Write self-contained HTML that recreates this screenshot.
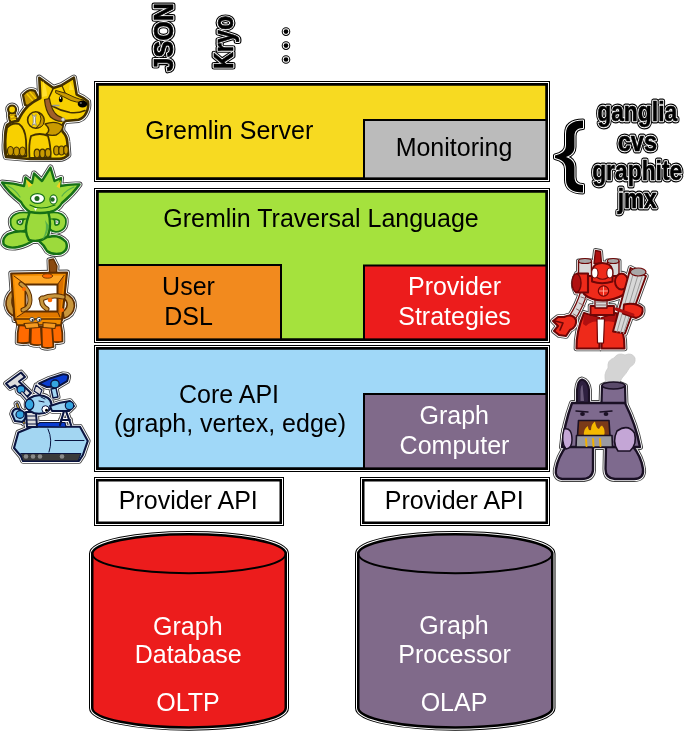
<!DOCTYPE html>
<html><head><meta charset="utf-8">
<style>
html,body{margin:0;padding:0;background:#fff;width:685px;height:733px;overflow:hidden;}
svg{display:block;will-change:transform;}
text{font-family:"Liberation Sans",sans-serif;}
.t{font-size:25px;text-anchor:middle;fill:#000;}
.w{fill:#fff;}
</style></head><body>
<svg width="685" height="733" viewBox="0 0 685 733">
<!-- halo strokes for boxes -->
<g fill="none" stroke="#000" stroke-width="6.5">
<rect x="97.25" y="84.25" width="449.5" height="94.5"/>
<rect x="97.25" y="191.25" width="449.5" height="148.5"/>
<rect x="97.25" y="348.25" width="449.5" height="120.5"/>
<rect x="97.25" y="480.25" width="183.5" height="42.5"/>
<rect x="363.25" y="480.25" width="183.5" height="42.5"/>
</g>
<g fill="none" stroke="#fff" stroke-width="4.5">
<rect x="97.25" y="84.25" width="449.5" height="94.5"/>
<rect x="97.25" y="191.25" width="449.5" height="148.5"/>
<rect x="97.25" y="348.25" width="449.5" height="120.5"/>
<rect x="97.25" y="480.25" width="183.5" height="42.5"/>
<rect x="363.25" y="480.25" width="183.5" height="42.5"/>
</g>
<g stroke="#000" stroke-width="2.5">
<rect x="97.25" y="84.25" width="449.5" height="94.5" fill="#F7DA21"/>
<rect x="97.25" y="191.25" width="449.5" height="148.5" fill="#A5E23D"/>
<rect x="97.25" y="348.25" width="449.5" height="120.5" fill="#A0D8F8"/>
<rect x="97.25" y="480.25" width="183.5" height="42.5" fill="#fff"/>
<rect x="363.25" y="480.25" width="183.5" height="42.5" fill="#fff"/>
</g>
<g stroke="#000" stroke-width="2">
<rect x="364" y="120" width="182.75" height="58.75" fill="#BBBBBB"/>
<rect x="97.25" y="265" width="183.75" height="74.75" fill="#F28A1E"/>
<rect x="364" y="265.5" width="182.75" height="74.25" fill="#EC1C1C"/>
<rect x="364" y="394" width="182.75" height="74.75" fill="#806A8A"/>
</g>
<g stroke="#000" stroke-width="2.5" fill="none">
<rect x="97.25" y="84.25" width="449.5" height="94.5"/>
<rect x="97.25" y="191.25" width="449.5" height="148.5"/>
<rect x="97.25" y="348.25" width="449.5" height="120.5"/>
</g>
<!-- cylinders -->
<g id="cyl">
<path d="M92.25,553.7 A96.75,19.5 0 0 1 285.75,553.7 L285.75,707.9 A96.75,19.5 0 0 1 92.25,707.9 Z" fill="none" stroke="#000" stroke-width="6.5"/>
<path d="M92.25,553.7 A96.75,19.5 0 0 1 285.75,553.7 L285.75,707.9 A96.75,19.5 0 0 1 92.25,707.9 Z" fill="none" stroke="#fff" stroke-width="4.5"/>
<path d="M92.25,553.7 A96.75,19.5 0 0 1 285.75,553.7 L285.75,707.9 A96.75,19.5 0 0 1 92.25,707.9 Z" fill="#EC1C1C" stroke="#000" stroke-width="2.5"/>
<path d="M92.25,553.7 A96.75,19.5 0 0 0 285.75,553.7" fill="none" stroke="#000" stroke-width="2"/>
</g>
<path d="M358.25,553.7 A97,19.5 0 0 1 552.25,553.7 L552.25,707.9 A97,19.5 0 0 1 358.25,707.9 Z" fill="none" stroke="#000" stroke-width="6.5"/>
<path d="M358.25,553.7 A97,19.5 0 0 1 552.25,553.7 L552.25,707.9 A97,19.5 0 0 1 358.25,707.9 Z" fill="none" stroke="#fff" stroke-width="4.5"/>
<path d="M358.25,553.7 A97,19.5 0 0 1 552.25,553.7 L552.25,707.9 A97,19.5 0 0 1 358.25,707.9 Z" fill="#806A8A" stroke="#000" stroke-width="2.5"/>
<path d="M358.25,553.7 A97,19.5 0 0 0 552.25,553.7" fill="none" stroke="#000" stroke-width="2"/>


<!-- outlined labels -->
<defs>
<text id="tJSON" transform="translate(173,71.5) rotate(-90)" font-weight="bold" font-size="27.5" textLength="68.3" lengthAdjust="spacingAndGlyphs">JSON</text>
<text id="tKryo" transform="translate(233.2,69.1) rotate(-90)" font-weight="bold" font-size="27.5" textLength="53.3" lengthAdjust="spacingAndGlyphs">Kryo</text>
<g id="tDots"><circle cx="286" cy="31.6" r="2.3"/><circle cx="286" cy="45.6" r="2.3"/><circle cx="286" cy="59.5" r="2.3"/></g>
<g id="tMon" font-weight="bold" font-size="27" text-anchor="middle">
<text x="637.2" y="121.2" textLength="80" lengthAdjust="spacingAndGlyphs">ganglia</text>
<text x="637.4" y="150.5" textLength="39.3" lengthAdjust="spacingAndGlyphs">cvs</text>
<text x="637.2" y="179.5" textLength="90" lengthAdjust="spacingAndGlyphs">graphite</text>
<text x="637.2" y="208" textLength="39.1" lengthAdjust="spacingAndGlyphs">jmx</text>
</g>
<path id="brace" d="M583,120.5 C572,120.5 566,125 566,134 L566,145 C566,151 562,154 555,155.5 L555,158 C562,159.5 566,163 566,169 L566,180 C566,188 572,192.5 583,192.5 L583,185 C577,185 574.5,182 574.5,177 L574.5,167 C574.5,162 571,158.5 566,157 C571,155.5 574.5,152 574.5,147 L574.5,136 C574.5,131 577,128 583,128 Z"/>
</defs>
<g fill="#000" stroke="#000" stroke-width="5" stroke-linejoin="round"><use href="#tJSON"/><use href="#tKryo"/><use href="#tMon"/></g>
<g fill="#fff" stroke="#fff" stroke-width="2.6" stroke-linejoin="round"><use href="#tJSON"/><use href="#tKryo"/><use href="#tMon"/></g>
<g fill="#000" stroke="#000" stroke-width="0.6" stroke-linejoin="round"><use href="#tJSON"/><use href="#tKryo"/><use href="#tMon"/></g>
<g fill="#000" stroke="#000" stroke-width="4" stroke-linejoin="round"><use href="#tDots"/><use href="#brace"/></g>
<g fill="#fff" stroke="#fff" stroke-width="2" stroke-linejoin="round"><use href="#tDots"/><use href="#brace"/></g>
<g fill="#000"><use href="#tDots"/><use href="#brace"/></g>


<g id="dog" stroke-linejoin="round" stroke-linecap="round">
<g fill="#fff" stroke="#444" stroke-width="5.6">
<path d="M9,112 Q8,120 13,126 L19,122 Q15,117 15,112 Z" stroke-width="5.800000000000001"/>
<ellipse cx="12.1" cy="109.5" rx="4" ry="4" stroke-width="5.800000000000001"/>
<path d="M23,95 Q29,88 35,91 L40,101 L31,107 L25,105 Z" stroke-width="5.800000000000001"/>
<path d="M40.3,98 L39.3,77.7 L53.4,88 L61.8,85.2 L73.9,77.7 L76.7,94.6 Q83,97 88,101.5 Q89,108 86,113.3 Q84,118 78.6,119.8 L65,121 Q61,126 62.5,131.5 Q67,136 67.3,142 L68.3,155 Q64,159 58.9,158.9 L30,159 L6,157 Q4,150 5,140 Q5,130 7,125 Q12,121 18,121 Q22,112 28,106 Q34,101 40.3,98 Z" stroke-width="6.2"/>
</g>
<g fill="#fff" stroke="#fff">
<path d="M9,112 Q8,120 13,126 L19,122 Q15,117 15,112 Z" stroke-width="4.0"/>
<ellipse cx="12.1" cy="109.5" rx="4" ry="4" stroke-width="4.0"/>
<path d="M23,95 Q29,88 35,91 L40,101 L31,107 L25,105 Z" stroke-width="4.0"/>
<path d="M40.3,98 L39.3,77.7 L53.4,88 L61.8,85.2 L73.9,77.7 L76.7,94.6 Q83,97 88,101.5 Q89,108 86,113.3 Q84,118 78.6,119.8 L65,121 Q61,126 62.5,131.5 Q67,136 67.3,142 L68.3,155 Q64,159 58.9,158.9 L30,159 L6,157 Q4,150 5,140 Q5,130 7,125 Q12,121 18,121 Q22,112 28,106 Q34,101 40.3,98 Z" stroke-width="4.4"/>
</g>
<path d="M9,112 Q8,120 13,126 L19,122 Q15,117 15,112 Z" fill="#F8D000" stroke="#433000" stroke-width="2.2"/>
<ellipse cx="12.1" cy="109.5" rx="4" ry="4" fill="#F8D000" stroke="#433000" stroke-width="2.2"/>
<path d="M10,115.5 L15,114.5 M10.5,119 L16,117.5 M12,122.5 L17.5,120.5" fill="none" stroke="#C99A00" stroke-width="1.4"/>
<path d="M23,95 Q29,88 35,91 L40,101 L31,107 L25,105 Z" fill="#C99A00" stroke="#433000" stroke-width="2.2"/>
<path d="M27,94 L33,101 M30,92 L36,99" fill="none" stroke="#F8D000" stroke-width="1.2"/>
<path d="M40.3,98 L39.3,77.7 L53.4,88 L61.8,85.2 L73.9,77.7 L76.7,94.6 Q83,97 88,101.5 Q89,108 86,113.3 Q84,118 78.6,119.8 L65,121 Q61,126 62.5,131.5 Q67,136 67.3,142 L68.3,155 Q64,159 58.9,158.9 L30,159 L6,157 Q4,150 5,140 Q5,130 7,125 Q12,121 18,121 Q22,112 28,106 Q34,101 40.3,98 Z" fill="#F8D000" stroke="#433000" stroke-width="2.6"/>
<path d="M6.5,156 Q4.5,140 7,128 Q12,122 19,124 Q25,128 26,140 L26.5,156 Z" fill="#F8D000" stroke="#433000" stroke-width="1.8"/>
<path d="M29.5,158 Q28.5,144 31,136 Q40,132 48,136 Q51,146 50.5,158 Z" fill="#F8D000" stroke="#433000" stroke-width="1.8"/>
<path d="M45,124 Q56,120 63,126 Q62,132 56,135 Q50,136 46,134 Q52,130 45,124 Z" fill="#C99A00" stroke="#433000" stroke-width="1.4"/>
<ellipse cx="10.5" cy="151" rx="3" ry="4.5" fill="#C99A00" stroke="#433000" stroke-width="1.2"/>
<ellipse cx="16.5" cy="151.5" rx="3" ry="4.5" fill="#C99A00" stroke="#433000" stroke-width="1.2"/>
<ellipse cx="22.5" cy="151.5" rx="3" ry="4.5" fill="#C99A00" stroke="#433000" stroke-width="1.2"/>
<ellipse cx="37" cy="153.5" rx="2.8" ry="4.3" fill="#C99A00" stroke="#433000" stroke-width="1.2"/>
<ellipse cx="42.5" cy="153.5" rx="2.8" ry="4.3" fill="#C99A00" stroke="#433000" stroke-width="1.2"/>
<ellipse cx="48" cy="153" rx="2.8" ry="4.3" fill="#C99A00" stroke="#433000" stroke-width="1.2"/>
<ellipse cx="56.5" cy="150.5" rx="2.8" ry="4.5" fill="#C99A00" stroke="#433000" stroke-width="1.2"/>
<ellipse cx="61.5" cy="150.5" rx="2.8" ry="4.5" fill="#C99A00" stroke="#433000" stroke-width="1.2"/>
<ellipse cx="66" cy="150" rx="2.3" ry="4.3" fill="#C99A00" stroke="#433000" stroke-width="1.2"/>
<ellipse cx="35.8" cy="120" rx="8.2" ry="8.2" fill="#F8D000" stroke="#433000" stroke-width="1.6"/>
<path d="M38,112.5 Q45,116 44,122 Q43,128 36,128 Q41,124 41,119 Q41,115 38,112.5 Z" fill="#C99A00" stroke="#433000" stroke-width="1"/>
<path d="M32.2,114.5 L34,116.5 L36.2,114.5 L35.5,117.5 L35.5,122.5 L36.5,125.5 L34.2,124 L32.2,125.5 L33.2,122.5 L33.2,117.5 Z" fill="#EEEEEE" stroke="#777" stroke-width="0.7"/>
<path d="M48.7,98.3 L53.4,88" fill="none" stroke="#433000" stroke-width="1.5"/>
<path d="M61.8,85.2 L66,95" fill="none" stroke="#433000" stroke-width="1.2"/>
<path d="M43,81 Q47,88 47,96 L42,97 Z" fill="#FFE030"/>
<path d="M70,82 L74,90 L69,90 Z" fill="#FFE030"/>
<path d="M56,90.5 Q66,92.5 75,97.5 Q80,99.5 84,100 L83,102.5 Q76,102.5 71,100.5 Q63,96.5 56,93 Z" fill="#C99A00" stroke="#433000" stroke-width="1"/>
<path d="M52,106 Q61,111 70,112.5 Q78,113.5 85,110.5" fill="none" stroke="#433000" stroke-width="1.6"/>
<path d="M53,105.5 L59,105.5" fill="none" stroke="#999" stroke-width="1.4"/>
<path d="M44.5,99.5 Q45.5,111 50.5,117 Q55,121 62,121.5 L62,117.5 Q57.5,116.5 54.5,112.5 Q50.5,106.5 49.5,98.5 Z" fill="#A0602A" stroke="#433000" stroke-width="1.2"/>
<ellipse cx="63.1" cy="119.5" rx="2" ry="1.8" fill="#DDDDDD" stroke="#777" stroke-width="0.6"/>
<ellipse cx="82.5" cy="104" rx="4.8" ry="3.4" fill="#000"/>
<ellipse cx="80.8" cy="103" rx="1.2" ry="0.8" fill="#888"/>
<ellipse cx="60.8" cy="99.2" rx="1.9" ry="3" fill="#000"/>
<ellipse cx="60.4" cy="98" rx="0.7" ry="0.9" fill="#fff"/>
</g>
<g id="gremlin" stroke-linejoin="round" stroke-linecap="round">
<g fill="#fff" stroke="#444" stroke-width="5.6">
<path d="M31,216.5 Q17,214 14,220 Q13,228 21,228 Q26,227 26,222" stroke-width="12.1" fill="none"/>
<path d="M47,216.5 Q60,214 62.5,220 Q63.5,228 56,228.5 Q51,228 51.5,222" stroke-width="12.1" fill="none"/>
<path d="M28,232 Q16,230 8,234 Q2,238 3.5,244 Q7,249 18,247 Q27,245 34,240 Z" stroke-width="6.0"/>
<path d="M40,236 Q47,238 53,236 Q61,236 66,242 Q69,250 61,253.5 Q52,255 47,251 Q44,245 39,241 Z" stroke-width="6.0"/>
<path d="M30,211 L48,211 Q52,224 48,236 Q40,243 29,240 Q24,232 27,221 Z" stroke-width="6.0"/>
<path d="M2,182.5 Q14,183 24,186 L25.5,177.5 L32,183 L34,173.5 L42,181 L50.5,167.5 L54.5,181 L61,178 L60,186 Q70,184 79.5,184.5 Q72,195 62,203 Q58,210 50,212 Q40,214 30,212 Q24,208 21,202 Q8,192 2,182.5 Z" stroke-width="6.0"/>
</g>
<g fill="#fff" stroke="#fff">
<path d="M31,216.5 Q17,214 14,220 Q13,228 21,228 Q26,227 26,222" stroke-width="10.3" fill="none"/>
<path d="M47,216.5 Q60,214 62.5,220 Q63.5,228 56,228.5 Q51,228 51.5,222" stroke-width="10.3" fill="none"/>
<path d="M28,232 Q16,230 8,234 Q2,238 3.5,244 Q7,249 18,247 Q27,245 34,240 Z" stroke-width="4.2"/>
<path d="M40,236 Q47,238 53,236 Q61,236 66,242 Q69,250 61,253.5 Q52,255 47,251 Q44,245 39,241 Z" stroke-width="4.2"/>
<path d="M30,211 L48,211 Q52,224 48,236 Q40,243 29,240 Q24,232 27,221 Z" stroke-width="4.2"/>
<path d="M2,182.5 Q14,183 24,186 L25.5,177.5 L32,183 L34,173.5 L42,181 L50.5,167.5 L54.5,181 L61,178 L60,186 Q70,184 79.5,184.5 Q72,195 62,203 Q58,210 50,212 Q40,214 30,212 Q24,208 21,202 Q8,192 2,182.5 Z" stroke-width="4.2"/>
</g>
<path d="M31,216.5 Q17,214 14,220 Q13,228 21,228 Q26,227 26,222" fill="none" stroke="#167016" stroke-width="8.5"/>
<path d="M47,216.5 Q60,214 62.5,220 Q63.5,228 56,228.5 Q51,228 51.5,222" fill="none" stroke="#167016" stroke-width="8.5"/>
<path d="M31,216.5 Q17,214 14,220 Q13,228 21,228 Q26,227 26,222" fill="none" stroke="#9CDA3C" stroke-width="5"/>
<path d="M47,216.5 Q60,214 62.5,220 Q63.5,228 56,228.5 Q51,228 51.5,222" fill="none" stroke="#9CDA3C" stroke-width="5"/>
<path d="M28,232 Q16,230 8,234 Q2,238 3.5,244 Q7,249 18,247 Q27,245 34,240 Z" fill="#9CDA3C" stroke="#167016" stroke-width="2.4"/>
<path d="M40,236 Q47,238 53,236 Q61,236 66,242 Q69,250 61,253.5 Q52,255 47,251 Q44,245 39,241 Z" fill="#9CDA3C" stroke="#167016" stroke-width="2.4"/>
<path d="M30,211 L48,211 Q52,224 48,236 Q40,243 29,240 Q24,232 27,221 Z" fill="#9CDA3C" stroke="#167016" stroke-width="2.4"/>
<path d="M45,220 Q48,230 42,240 Q47,236 49,226 Z" fill="#55B04A"/>
<path d="M2,182.5 Q14,183 24,186 L25.5,177.5 L32,183 L34,173.5 L42,181 L50.5,167.5 L54.5,181 L61,178 L60,186 Q70,184 79.5,184.5 Q72,195 62,203 Q58,210 50,212 Q40,214 30,212 Q24,208 21,202 Q8,192 2,182.5 Z" fill="#9CDA3C" stroke="#167016" stroke-width="2.4"/>
<path d="M25.8,179 L32.5,185 L28.5,187.5 Z M60.8,180 L56.5,186.5 L59.8,188.5 Z" fill="#F2D020"/>
<path d="M30,205 Q40,211 55,205" fill="none" stroke="#167016" stroke-width="1.2"/>
<path d="M8,186 Q16,190 20,197" fill="none" stroke="#55B04A" stroke-width="1.2"/>
<path d="M74,187 Q66,190 62,196" fill="none" stroke="#55B04A" stroke-width="1.2"/>
<ellipse cx="37.5" cy="198.5" rx="7" ry="4.8" fill="#fff" stroke="#167016" stroke-width="1.2"/>
<ellipse cx="53.5" cy="199.5" rx="3.6" ry="4.6" fill="#fff" stroke="#167016" stroke-width="1.2"/>
<ellipse cx="37" cy="198.5" rx="2.5" ry="2.5" fill="#1F6A1F"/>
<ellipse cx="52.5" cy="199.5" rx="2.2" ry="2.2" fill="#1F6A1F"/>
<path d="M34,208 L35.5,211 L37,208 Z" fill="#fff"/>
</g>
<g id="frame" stroke-linejoin="round" stroke-linecap="round">
<g fill="#fff" stroke="#444" stroke-width="5.6">
<path d="M13,290 Q5.5,296 6,305 Q7.5,314 15,316.5 L15,309 Q11.5,306 12,300 Q12.5,296 15,294.5 Z" stroke-width="5.2"/>
<path d="M64,293 Q74.5,297 74.5,306 Q73.5,315.5 64,318.5 L63,311.5 Q68,308 67,303 Q66,299 62,297.5 Z" stroke-width="5.2"/>
<path d="M49,260 L53.5,259 L57,266 L56.5,273 L49.5,273 Z" stroke-width="5.0"/>
<path d="M19,325 L30,326 L29.5,342.5 Q23,344 17.5,342.5 Q17,333 19,325 Z" stroke-width="5.4"/>
<path d="M52,326 L61,325 Q63,333 62.5,341.5 Q57,343 52,341.5 Z" stroke-width="5.4"/>
<path d="M31,326 L41,327 L42,344.5 Q36,346 30.5,344 Z" stroke-width="5.4"/>
<path d="M41.5,327 L52,326 L53.5,347 Q47.5,349 42,347 Z" stroke-width="5.4"/>
<path d="M11.2,273.5 L67,272.5 L62,320 L14.5,320 Z" stroke-width="5.800000000000001"/>
</g>
<g fill="#fff" stroke="#fff">
<path d="M13,290 Q5.5,296 6,305 Q7.5,314 15,316.5 L15,309 Q11.5,306 12,300 Q12.5,296 15,294.5 Z" stroke-width="3.4000000000000004"/>
<path d="M64,293 Q74.5,297 74.5,306 Q73.5,315.5 64,318.5 L63,311.5 Q68,308 67,303 Q66,299 62,297.5 Z" stroke-width="3.4000000000000004"/>
<path d="M49,260 L53.5,259 L57,266 L56.5,273 L49.5,273 Z" stroke-width="3.2"/>
<path d="M19,325 L30,326 L29.5,342.5 Q23,344 17.5,342.5 Q17,333 19,325 Z" stroke-width="3.6"/>
<path d="M52,326 L61,325 Q63,333 62.5,341.5 Q57,343 52,341.5 Z" stroke-width="3.6"/>
<path d="M31,326 L41,327 L42,344.5 Q36,346 30.5,344 Z" stroke-width="3.6"/>
<path d="M41.5,327 L52,326 L53.5,347 Q47.5,349 42,347 Z" stroke-width="3.6"/>
<path d="M11.2,273.5 L67,272.5 L62,320 L14.5,320 Z" stroke-width="4.0"/>
</g>
<path d="M13,290 Q5.5,296 6,305 Q7.5,314 15,316.5 L15,309 Q11.5,306 12,300 Q12.5,296 15,294.5 Z" fill="#C8963C" stroke="#5E2E00" stroke-width="1.6"/>
<path d="M64,293 Q74.5,297 74.5,306 Q73.5,315.5 64,318.5 L63,311.5 Q68,308 67,303 Q66,299 62,297.5 Z" fill="#C8963C" stroke="#5E2E00" stroke-width="1.6"/>
<path d="M49,260 L53.5,259 L57,266 L56.5,273 L49.5,273 Z" fill="#8A4A10" stroke="#5E2E00" stroke-width="1.4"/>
<path d="M19,325 L30,326 L29.5,342.5 Q23,344 17.5,342.5 Q17,333 19,325 Z" fill="#FF6A00" stroke="#5E2E00" stroke-width="1.8"/>
<path d="M52,326 L61,325 Q63,333 62.5,341.5 Q57,343 52,341.5 Z" fill="#FF6A00" stroke="#5E2E00" stroke-width="1.8"/>
<path d="M31,326 L41,327 L42,344.5 Q36,346 30.5,344 Z" fill="#FF6A00" stroke="#5E2E00" stroke-width="1.8"/>
<path d="M41.5,327 L52,326 L53.5,347 Q47.5,349 42,347 Z" fill="#FF6A00" stroke="#5E2E00" stroke-width="1.8"/>
<path d="M11.2,273.5 L67,272.5 L62,320 L14.5,320 Z" fill="#F28C00" stroke="#5E2E00" stroke-width="2.2"/>
<path d="M15,319 L62,319 L61,325 L17,325 Z" fill="#F28C00" stroke="#5E2E00" stroke-width="1.6"/>
<path d="M24,323.5 L38,322.5 L39,327.5 L26,328.5 Z M43,322.5 L56,323.5 L55,328.5 L43,327.5 Z" fill="#F59A20" stroke="#5E2E00" stroke-width="1.1"/>
<path d="M14,276 L64,275.5 L57.5,284.5 L25.5,284.5 Z" fill="#FFA726"/>
<path d="M64,275.5 L60,317 L57.5,311.5 L57.5,284.5 Z" fill="#D87000"/>
<path d="M14,276 L25.5,284.5 L25.5,311.5 L17,317 Z" fill="#FF9A10"/>
<path d="M17,317 L25.5,311.5 L57.5,311.5 L60,317 Z" fill="#E07800"/>
<path d="M14,276 L25.5,284.5 M64,275.5 L57.5,284.5 M17,317 L25.5,311.5 M60,317 L57.5,311.5" fill="none" stroke="#5E2E00" stroke-width="1"/>
<path d="M25.5,284.5 L57.5,284.5 L57.5,311.5 L25.5,311.5 Z" fill="#fff" stroke="#5E2E00" stroke-width="2"/>
<path d="M21,284 Q30,290 30,300 Q30,308 23,310" fill="none" stroke="#5E2E00" stroke-width="5"/>
<path d="M41,299 Q52,294 63,297" fill="none" stroke="#5E2E00" stroke-width="5"/>
<path d="M42,298 Q40,305 47,309" fill="none" stroke="#5E2E00" stroke-width="5"/>
<path d="M21,284 Q30,290 30,300 Q30,308 23,310" fill="none" stroke="#C8963C" stroke-width="3"/>
<path d="M41,299 Q52,294 63,297" fill="none" stroke="#C8963C" stroke-width="3"/>
<path d="M42,298 Q40,305 47,309" fill="none" stroke="#C8963C" stroke-width="3"/>
<ellipse cx="24" cy="289" rx="2" ry="2" fill="#FF6A00"/>
<ellipse cx="50" cy="300" rx="2.3" ry="2.3" fill="#FF6A00"/>
<ellipse cx="62" cy="310" rx="2" ry="2" fill="#FF6A00"/>
<ellipse cx="47.5" cy="276" rx="5" ry="2.2" fill="#FF6A00" stroke="#5E2E00" stroke-width="0.8"/>
<ellipse cx="32" cy="319.5" rx="2.4" ry="2.2" fill="#fff" stroke="#333" stroke-width="0.8"/>
<ellipse cx="39" cy="319.5" rx="2.4" ry="2.2" fill="#fff" stroke="#333" stroke-width="0.8"/>
<ellipse cx="32.5" cy="320" rx="1" ry="1" fill="#222"/>
<ellipse cx="39.5" cy="320" rx="1" ry="1" fill="#222"/>
</g>
<g id="bluebot" stroke-linejoin="round" stroke-linecap="round">
<g fill="#fff" stroke="#444" stroke-width="5.6">
<path d="M18.3,432.5 L32.3,426.8 L80,426.8 L87.8,440.9 L82.9,455 L79,461 L23,461 L21,456.3 L14,448 Z" stroke-width="5.7"/>
<path d="M33,426.5 L40,422.5 L65,422.5 L66,427 Z" stroke-width="4.8"/>
<path d="M6,383.5 L21,372.5 L25,377 L19,381.5 L31,393 L27,397 L15,385.5 L10,388 Z" stroke-width="5.6"/>
<path d="M17,404 L24,423" stroke-width="6.800000000000001" fill="none"/>
<path d="M12,414 Q13,408 19,409 L25,413 Q27,419 22,422 L15,421 Z" stroke-width="5.6"/>
<ellipse cx="21" cy="389.5" rx="4" ry="4" stroke-width="5.0"/>
<path d="M22,393 L30,402" stroke-width="7.1" fill="none"/>
<path d="M39,383.5 L49,378.8 L63,374.2 Q68.5,374 68.3,377 L67.2,381.2 L58.4,386.4 L46.7,387 Z" stroke-width="5.6"/>
<path d="M51,389 L56,388 L58,397 L53,398 Z" stroke-width="5.0"/>
<ellipse cx="55" cy="384" rx="4.2" ry="4" stroke-width="5.0"/>
<path d="M36,385 L42,390 L40,395 L34,391 Z" stroke-width="4.8"/>
<path d="M26,412 L36,412 L37,427 L27,427 Z" stroke-width="5.6"/>
<ellipse cx="39" cy="404.5" rx="12.5" ry="9.3" stroke-width="5.7"/>
<path d="M50,406 Q60,402 70,401 L74,406 L69,411 L52,411 Z" stroke-width="5.6"/>
<path d="M64,411 L60,425 M66,411 L71,425 M61,420 L70,420" stroke-width="5.800000000000001" fill="none"/>
</g>
<g fill="#fff" stroke="#fff">
<path d="M18.3,432.5 L32.3,426.8 L80,426.8 L87.8,440.9 L82.9,455 L79,461 L23,461 L21,456.3 L14,448 Z" stroke-width="3.9000000000000004"/>
<path d="M33,426.5 L40,422.5 L65,422.5 L66,427 Z" stroke-width="3.0"/>
<path d="M6,383.5 L21,372.5 L25,377 L19,381.5 L31,393 L27,397 L15,385.5 L10,388 Z" stroke-width="3.8"/>
<path d="M17,404 L24,423" stroke-width="5.0" fill="none"/>
<path d="M12,414 Q13,408 19,409 L25,413 Q27,419 22,422 L15,421 Z" stroke-width="3.8"/>
<ellipse cx="21" cy="389.5" rx="4" ry="4" stroke-width="3.2"/>
<path d="M22,393 L30,402" stroke-width="5.3" fill="none"/>
<path d="M39,383.5 L49,378.8 L63,374.2 Q68.5,374 68.3,377 L67.2,381.2 L58.4,386.4 L46.7,387 Z" stroke-width="3.8"/>
<path d="M51,389 L56,388 L58,397 L53,398 Z" stroke-width="3.2"/>
<ellipse cx="55" cy="384" rx="4.2" ry="4" stroke-width="3.2"/>
<path d="M36,385 L42,390 L40,395 L34,391 Z" stroke-width="3.0"/>
<path d="M26,412 L36,412 L37,427 L27,427 Z" stroke-width="3.8"/>
<ellipse cx="39" cy="404.5" rx="12.5" ry="9.3" stroke-width="3.9000000000000004"/>
<path d="M50,406 Q60,402 70,401 L74,406 L69,411 L52,411 Z" stroke-width="3.8"/>
<path d="M64,411 L60,425 M66,411 L71,425 M61,420 L70,420" stroke-width="4.0" fill="none"/>
</g>
<path d="M18.3,432.5 L32.3,426.8 L80,426.8 L87.8,440.9 L82.9,455 L79,461 L23,461 L21,456.3 L14,448 Z" fill="#A3D6F2" stroke="#0A1440" stroke-width="2.1"/>
<path d="M21,453.5 L81,453.5 L78,461 L23,461 Z" fill="#3A3A3A" stroke="#0A1440" stroke-width="1"/>
<ellipse cx="26" cy="456.5" rx="2.3" ry="2.3" fill="#8A8A8A"/>
<ellipse cx="33" cy="456.5" rx="2.3" ry="2.3" fill="#8A8A8A"/>
<ellipse cx="40" cy="456.5" rx="2.3" ry="2.3" fill="#8A8A8A"/>
<ellipse cx="62" cy="456.5" rx="2.3" ry="2.3" fill="#8A8A8A"/>
<path d="M48,429 Q53,440 49,452" fill="none" stroke="#0A1440" stroke-width="1"/>
<path d="M55,440.5 L84,440.5" fill="none" stroke="#0A1440" stroke-width="1"/>
<path d="M33,426.5 L40,422.5 L65,422.5 L66,427 Z" fill="#0A3DD0" stroke="#0A1440" stroke-width="1.2"/>
<path d="M6,383.5 L21,372.5 L25,377 L19,381.5 L31,393 L27,397 L15,385.5 L10,388 Z" fill="#DDDDDD" stroke="#0A1440" stroke-width="2.0"/>
<path d="M17,404 L24,423" fill="none" stroke="#0A1440" stroke-width="3.2"/>
<path d="M17,404 L24,423" fill="none" stroke="#B8902A" stroke-width="1.6"/>
<path d="M12,414 Q13,408 19,409 L25,413 Q27,419 22,422 L15,421 Z" fill="#A3D6F2" stroke="#0A1440" stroke-width="2.0"/>
<ellipse cx="20" cy="414.5" rx="4" ry="3.8" fill="#35A5E0" stroke="#0A1440" stroke-width="1.2"/>
<ellipse cx="21" cy="389.5" rx="4" ry="4" fill="#35A5E0" stroke="#0A1440" stroke-width="1.4"/>
<path d="M22,393 L30,402" fill="none" stroke="#0A1440" stroke-width="3.5"/>
<path d="M22,393 L30,402" fill="none" stroke="#DDDDDD" stroke-width="1.8"/>
<path d="M39,383.5 L49,378.8 L63,374.2 Q68.5,374 68.3,377 L67.2,381.2 L58.4,386.4 L46.7,387 Z" fill="#0A3DD0" stroke="#0A1440" stroke-width="2.0"/>
<path d="M51,389 L56,388 L58,397 L53,398 Z" fill="#A3D6F2" stroke="#0A1440" stroke-width="1.4"/>
<ellipse cx="55" cy="384" rx="4.2" ry="4" fill="#35A5E0" stroke="#0A1440" stroke-width="1.4"/>
<path d="M36,385 L42,390 L40,395 L34,391 Z" fill="#DDDDDD" stroke="#0A1440" stroke-width="1.2"/>
<path d="M26,412 L36,412 L37,427 L27,427 Z" fill="#DDDDDD" stroke="#0A1440" stroke-width="2.0"/>
<path d="M26.5,416 L36.5,416 M27,420 L37,420 M27,424 L37,424" fill="none" stroke="#0A1440" stroke-width="1"/>
<ellipse cx="39" cy="404.5" rx="12.5" ry="9.3" fill="#A3D6F2" stroke="#0A1440" stroke-width="2.1"/>
<ellipse cx="29.5" cy="404.5" rx="4.3" ry="5.3" fill="#35A5E0" stroke="#0A1440" stroke-width="1.2"/>
<path d="M39,401 L44,402 M41,397 L45,399" fill="none" stroke="#0A1440" stroke-width="1"/>
<ellipse cx="45.5" cy="409.3" rx="3.6" ry="3.6" fill="#fff" stroke="#0A1440" stroke-width="1"/>
<ellipse cx="46.5" cy="410.3" rx="1.5" ry="1.5" fill="#000"/>
<path d="M50,406 Q60,402 70,401 L74,406 L69,411 L52,411 Z" fill="#A3D6F2" stroke="#0A1440" stroke-width="2.0"/>
<ellipse cx="69.5" cy="405.5" rx="4.2" ry="4.2" fill="#35A5E0" stroke="#0A1440" stroke-width="1.2"/>
<path d="M64,411 L60,425 M66,411 L71,425 M61,420 L70,420" fill="none" stroke="#0A1440" stroke-width="2.2"/>
</g>
<g id="redbot" stroke-linejoin="round" stroke-linecap="round">
<g fill="#fff" stroke="#444" stroke-width="5.6">
<path d="M594,263.5 L595.5,250.5 L600.5,251.5 L601.5,263.5 Z" stroke-width="5.0"/>
<path d="M578.5,261 L591.5,261 L591.5,277 L578.5,277 Z" stroke-width="5.0"/>
<path d="M607.5,261 L619,261 L619,277 L607.5,277 Z" stroke-width="5.0"/>
<path d="M584,292 Q580,306 571.5,319" stroke-width="11.6" fill="none"/>
<path d="M564,317 Q573,313 576,320 Q577,327 570,330 L566,336 L559,335 L554,331 L558,326 L553,321 L558,317 Z" stroke-width="5.7"/>
<path d="M584,313 L599.5,318 L599.5,348.5 L576.5,348.5 Q576,332 584,313 Z" stroke-width="5.7"/>
<path d="M602,318 L616,313 Q625,332 624.5,348.5 L601.5,348.5 Z" stroke-width="5.7"/>
<path d="M590.5,306 L614,306 L614,315 L590.5,315 Z" stroke-width="5.5"/>
<path d="M595,299 L607,299 L607,308 L595,308 Z" stroke-width="5.0"/>
<path d="M581,276 L625,276 Q630,286 625,294 Q614,300.5 603,300.5 Q590,300 584,294 Z" stroke-width="5.7"/>
<path d="M588,273.5 L577,273.5 Q571,283 576,292.5 L588,292.5 Z" stroke-width="5.7"/>
<ellipse cx="621.5" cy="281.5" rx="6.5" ry="8" stroke-width="5.5"/>
<path d="M592,281.5 L592,270 Q594,263 602,263 Q611,263 612.5,270 L612.5,281.5 Q602,285 592,281.5 Z" stroke-width="5.5"/>
<path d="M630.5,268 L646,276 L625,333.5 L613,331.5 Z" stroke-width="5.5"/>
<path d="M624,304.5 Q636,302 642.5,308 Q644,316 636,318 L623,313.5 Z" stroke-width="5.5"/>
</g>
<g fill="#fff" stroke="#fff">
<path d="M594,263.5 L595.5,250.5 L600.5,251.5 L601.5,263.5 Z" stroke-width="3.2"/>
<path d="M578.5,261 L591.5,261 L591.5,277 L578.5,277 Z" stroke-width="3.2"/>
<path d="M607.5,261 L619,261 L619,277 L607.5,277 Z" stroke-width="3.2"/>
<path d="M584,292 Q580,306 571.5,319" stroke-width="9.8" fill="none"/>
<path d="M564,317 Q573,313 576,320 Q577,327 570,330 L566,336 L559,335 L554,331 L558,326 L553,321 L558,317 Z" stroke-width="3.9000000000000004"/>
<path d="M584,313 L599.5,318 L599.5,348.5 L576.5,348.5 Q576,332 584,313 Z" stroke-width="3.9000000000000004"/>
<path d="M602,318 L616,313 Q625,332 624.5,348.5 L601.5,348.5 Z" stroke-width="3.9000000000000004"/>
<path d="M590.5,306 L614,306 L614,315 L590.5,315 Z" stroke-width="3.7"/>
<path d="M595,299 L607,299 L607,308 L595,308 Z" stroke-width="3.2"/>
<path d="M581,276 L625,276 Q630,286 625,294 Q614,300.5 603,300.5 Q590,300 584,294 Z" stroke-width="3.9000000000000004"/>
<path d="M588,273.5 L577,273.5 Q571,283 576,292.5 L588,292.5 Z" stroke-width="3.9000000000000004"/>
<ellipse cx="621.5" cy="281.5" rx="6.5" ry="8" stroke-width="3.7"/>
<path d="M592,281.5 L592,270 Q594,263 602,263 Q611,263 612.5,270 L612.5,281.5 Q602,285 592,281.5 Z" stroke-width="3.7"/>
<path d="M630.5,268 L646,276 L625,333.5 L613,331.5 Z" stroke-width="3.7"/>
<path d="M624,304.5 Q636,302 642.5,308 Q644,316 636,318 L623,313.5 Z" stroke-width="3.7"/>
</g>
<path d="M594,263.5 L595.5,250.5 L600.5,251.5 L601.5,263.5 Z" fill="#B01010" stroke="#6E0606" stroke-width="1.4"/>
<path d="M578.5,261 L591.5,261 L591.5,277 L578.5,277 Z" fill="#D8D8D8" stroke="#6E0606" stroke-width="1.4"/>
<ellipse cx="585" cy="261" rx="6.5" ry="2.5" fill="#A8A8A8" stroke="#6E0606" stroke-width="1.2"/>
<path d="M607.5,261 L619,261 L619,277 L607.5,277 Z" fill="#D8D8D8" stroke="#6E0606" stroke-width="1.4"/>
<ellipse cx="613.2" cy="261" rx="5.8" ry="2.5" fill="#A8A8A8" stroke="#6E0606" stroke-width="1.2"/>
<path d="M584,292 Q580,306 571.5,319" fill="none" stroke="#6E0606" stroke-width="8"/>
<path d="M584,292 Q580,306 571.5,319" fill="none" stroke="#D8D8D8" stroke-width="5.4"/>
<path d="M581,297 L587,299 M579,303 L585,306 M576.5,309 L582,312 M573.5,314 L578.5,317" fill="none" stroke="#8A6A6A" stroke-width="1"/>
<path d="M564,317 Q573,313 576,320 Q577,327 570,330 L566,336 L559,335 L554,331 L558,326 L553,321 L558,317 Z" fill="#EE2A1A" stroke="#6E0606" stroke-width="2.1"/>
<path d="M555,321 L563,323 L560,330" fill="none" stroke="#6E0606" stroke-width="1.6"/>
<path d="M584,313 L599.5,318 L599.5,348.5 L576.5,348.5 Q576,332 584,313 Z" fill="#EE2A1A" stroke="#6E0606" stroke-width="2.1"/>
<path d="M602,318 L616,313 Q625,332 624.5,348.5 L601.5,348.5 Z" fill="#EE2A1A" stroke="#6E0606" stroke-width="2.1"/>
<path d="M584,314 L599.5,318 L599.5,322 Q592,320 586,326 L583,324 Z" fill="#B01010"/>
<path d="M602,318 L616,314 L618,324 Q612,320 602,322 Z" fill="#B01010"/>
<path d="M597.5,343 L597,319 L604.5,319 L603.5,343 Z" fill="#fff" stroke="#6E0606" stroke-width="1.2"/>
<path d="M590.5,306 L614,306 L614,315 L590.5,315 Z" fill="#EE2A1A" stroke="#6E0606" stroke-width="1.9"/>
<path d="M595,299 L607,299 L607,308 L595,308 Z" fill="#D8D8D8" stroke="#6E0606" stroke-width="1.4"/>
<path d="M595,302 L607,302 M595,305 L607,305" fill="none" stroke="#8A6A6A" stroke-width="1"/>
<path d="M581,276 L625,276 Q630,286 625,294 Q614,300.5 603,300.5 Q590,300 584,294 Z" fill="#EE2A1A" stroke="#6E0606" stroke-width="2.1"/>
<path d="M588,273.5 L577,273.5 Q571,283 576,292.5 L588,292.5 Z" fill="#EE2A1A" stroke="#6E0606" stroke-width="2.1"/>
<ellipse cx="576.5" cy="283" rx="4.5" ry="9.2" fill="#B01010" stroke="#6E0606" stroke-width="1.4"/>
<ellipse cx="621.5" cy="281.5" rx="6.5" ry="8" fill="#EE2A1A" stroke="#6E0606" stroke-width="1.9"/>
<ellipse cx="603.5" cy="291" rx="5.2" ry="5.2" fill="#EE2A1A" stroke="#6E0606" stroke-width="1.2"/>
<path d="M599.5,291 L607.5,291 M603.5,287 L603.5,295" fill="none" stroke="#FFB0A0" stroke-width="0.9"/>
<path d="M592,281.5 L592,270 Q594,263 602,263 Q611,263 612.5,270 L612.5,281.5 Q602,285 592,281.5 Z" fill="#EE2A1A" stroke="#6E0606" stroke-width="1.9"/>
<ellipse cx="594.8" cy="273" rx="3.2" ry="5" fill="#fff" stroke="#6E0606" stroke-width="1.1"/>
<ellipse cx="609.8" cy="273" rx="3" ry="5" fill="#fff" stroke="#6E0606" stroke-width="1.1"/>
<path d="M597,277.5 Q602.5,281 608,277.5" fill="none" stroke="#6E0606" stroke-width="1.1"/>
<path d="M630.5,268 L646,276 L625,333.5 L613,331.5 Z" fill="#D8D8D8" stroke="#6E0606" stroke-width="1.9"/>
<path d="M634,271 L617,332 M638.5,273.5 L620.5,333 M642.5,275.5 L623.5,333.5" fill="none" stroke="#9A9A9A" stroke-width="1"/>
<ellipse cx="638.2" cy="272" rx="7.8" ry="4" fill="#A8A8A8" stroke="#6E0606" stroke-width="1.2"/>
<path d="M624,304.5 Q636,302 642.5,308 Q644,316 636,318 L623,313.5 Z" fill="#EE2A1A" stroke="#6E0606" stroke-width="1.9"/>
<path d="M616,309 L633,315" fill="none" stroke="#B01010" stroke-width="3"/>
</g>
<g id="furnace" stroke-linejoin="round" stroke-linecap="round">
<g fill="#fff" stroke="#444" stroke-width="5.6">
<path d="M577,403 L577,390 Q578,380 582,379.5 Q588,381 589,390 L589,403 Z" stroke-width="5.800000000000001"/>
<path d="M601.5,403 L602,386 Q613,380 625,386 L625.5,403 Z" stroke-width="5.800000000000001"/>
<path d="M567,445 L593,447 L593,470 Q592.5,479 581,479 L562,479 Q554.5,478 556,469 Q558,457 567,445 Z" stroke-width="6.0"/>
<path d="M606,446 L632,445 Q641.5,457 643,469 Q644,479 634,479 L615,479 Q605.5,478.5 605.5,469 Z" stroke-width="6.0"/>
<path d="M572,403 L625,403 Q636,425 640,447 L562,447 Q564,425 572,403 Z" stroke-width="6.0"/>
<path d="M564,429 Q572,427 572,440 Q572,448 566,449 Q560.5,442 564,429 Z" stroke-width="5.0"/>
<path d="M617,431 Q628,423.5 634.5,433 Q637.5,444 630,451 L618,451 Q611.5,442 617,431 Z" stroke-width="5.2"/>
</g>
<g fill="#fff" stroke="#fff">
<path d="M577,403 L577,390 Q578,380 582,379.5 Q588,381 589,390 L589,403 Z" stroke-width="4.0"/>
<path d="M601.5,403 L602,386 Q613,380 625,386 L625.5,403 Z" stroke-width="4.0"/>
<path d="M567,445 L593,447 L593,470 Q592.5,479 581,479 L562,479 Q554.5,478 556,469 Q558,457 567,445 Z" stroke-width="4.2"/>
<path d="M606,446 L632,445 Q641.5,457 643,469 Q644,479 634,479 L615,479 Q605.5,478.5 605.5,469 Z" stroke-width="4.2"/>
<path d="M572,403 L625,403 Q636,425 640,447 L562,447 Q564,425 572,403 Z" stroke-width="4.2"/>
<path d="M564,429 Q572,427 572,440 Q572,448 566,449 Q560.5,442 564,429 Z" stroke-width="3.2"/>
<path d="M617,431 Q628,423.5 634.5,433 Q637.5,444 630,451 L618,451 Q611.5,442 617,431 Z" stroke-width="3.4000000000000004"/>
</g>
<path d="M606,383 Q603,374 608,368 Q607,360 614,358 Q618,352 625,355 Q632,352 635,358 Q636,364 630,367 Q626,374 622,378 Q620,384 612,385 Z" fill="#D4D4D4" stroke="#CCCCCC" stroke-width="0.8"/>
<path d="M577,403 L577,390 Q578,380 582,379.5 Q588,381 589,390 L589,403 Z" fill="#2E2040" stroke="#1A1024" stroke-width="2.2"/>
<path d="M580.5,401 L580.5,391 Q581,385 582.5,385 L584,401 Z" fill="#6A5A7A"/>
<path d="M601.5,403 L602,386 Q613,380 625,386 L625.5,403 Z" fill="#7E6A8E" stroke="#1A1024" stroke-width="2.2"/>
<ellipse cx="613.5" cy="385.5" rx="11.5" ry="3.5" fill="#5A4A6A" stroke="#1A1024" stroke-width="1.6"/>
<path d="M567,445 L593,447 L593,470 Q592.5,479 581,479 L562,479 Q554.5,478 556,469 Q558,457 567,445 Z" fill="#7E6A8E" stroke="#1A1024" stroke-width="2.4"/>
<path d="M606,446 L632,445 Q641.5,457 643,469 Q644,479 634,479 L615,479 Q605.5,478.5 605.5,469 Z" fill="#7E6A8E" stroke="#1A1024" stroke-width="2.4"/>
<path d="M572,403 L625,403 Q636,425 640,447 L562,447 Q564,425 572,403 Z" fill="#7E6A8E" stroke="#1A1024" stroke-width="2.4"/>
<path d="M564,429 Q572,427 572,440 Q572,448 566,449 Q560.5,442 564,429 Z" fill="#C4A6D6" stroke="#1A1024" stroke-width="1.4"/>
<path d="M617,431 Q628,423.5 634.5,433 Q637.5,444 630,451 L618,451 Q611.5,442 617,431 Z" fill="#C4A6D6" stroke="#1A1024" stroke-width="1.6"/>
<path d="M576,411 L588,412 M600,412 L612,411" fill="none" stroke="#1A1024" stroke-width="1.4"/>
<ellipse cx="582.5" cy="414" rx="2.4" ry="2" fill="#1A1024"/>
<ellipse cx="606" cy="414" rx="2.4" ry="2" fill="#1A1024"/>
<path d="M578.5,420.5 L609,420.5 L610,436 L577.5,436 Z" fill="#7A3A18" stroke="#1A1024" stroke-width="1.6"/>
<path d="M584,436 Q583,429 588,426 Q588,431 591,430 Q591,424 595,421.5 Q596,428 599,429 Q600,426 602,425.5 Q606,430 604,436 Z" fill="#F5B800"/>
<path d="M576.5,435.5 L612,435.5 L612.5,447 L576,447 Z" fill="#9A9AA2" stroke="#1A1024" stroke-width="1.6"/>
<path d="M586,439 L586.5,446 M593,439 L593.5,446 M600,439 L600.5,446" fill="none" stroke="#F0B000" stroke-width="2"/>
</g>
<!-- labels -->
<text class="t" x="229.3" y="139">Gremlin Server</text>
<text class="t" x="454" y="155.7">Monitoring</text>
<text class="t" x="321" y="226.5">Gremlin Traversal Language</text>
<text class="t" x="188.5" y="295">User</text>
<text class="t" x="188.5" y="324.8">DSL</text>
<text class="t w" x="454.5" y="294.6">Provider</text>
<text class="t w" x="454.5" y="325">Strategies</text>
<text class="t" x="229" y="403">Core API</text>
<text class="t" x="230" y="432">(graph, vertex, edge)</text>
<text class="t w" x="454.2" y="424">Graph</text>
<text class="t w" x="454.5" y="454">Computer</text>
<text class="t" x="188.3" y="508.8">Provider API</text>
<text class="t" x="454.2" y="508.8">Provider API</text>
<text class="t w" x="187.8" y="634.9">Graph</text>
<text class="t w" x="188.2" y="663.2">Database</text>
<text class="t w" x="188" y="711">OLTP</text>
<text class="t w" x="454" y="634">Graph</text>
<text class="t w" x="454.5" y="662.5">Processor</text>
<text class="t w" x="454" y="710.8">OLAP</text>
</svg>
</body></html>
